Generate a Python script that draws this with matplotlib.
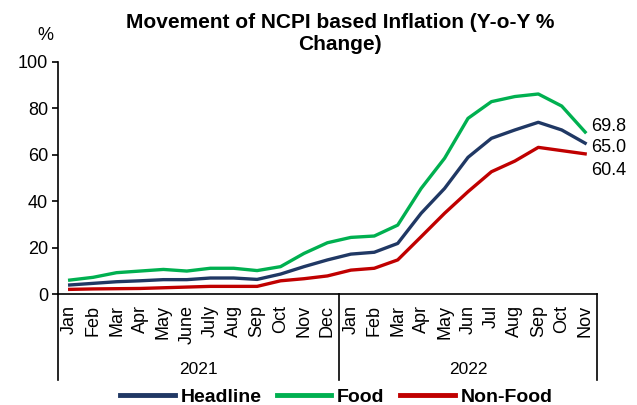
import numpy as np
import matplotlib.pyplot as plt
from matplotlib.lines import Line2D
import matplotlib.transforms as mtransforms

plt.rcParams['font.family'] = ['Liberation Sans', 'DejaVu Sans']

months = ["Jan", "Feb", "Mar", "Apr", "May", "June", "July", "Aug", "Sep", "Oct", "Nov", "Dec",
          "Jan", "Feb", "Mar", "Apr", "May", "Jun", "Jul", "Aug", "Sep", "Oct", "Nov"]
years = ["2021", "2022"]
year_len = [12, 11]

headline = [3.9, 4.6, 5.3, 5.7, 6.2, 6.2, 6.9, 6.9, 6.3, 8.6, 11.8, 14.7,
            17.2, 18.0, 21.8, 34.8, 45.5, 58.9, 67.1, 70.7, 74.0, 70.7, 65.0]
food = [6.0, 7.2, 9.2, 9.9, 10.6, 9.9, 11.1, 11.1, 10.1, 11.8, 17.5, 22.1,
        24.4, 25.0, 29.7, 45.5, 58.5, 75.7, 82.9, 85.1, 86.2, 81.0, 69.8]
nonfood = [2.0, 2.2, 2.3, 2.4, 2.7, 3.0, 3.3, 3.3, 3.3, 5.7, 6.6, 7.8,
           10.3, 11.1, 14.7, 24.7, 34.8, 44.1, 52.7, 57.3, 63.2, 61.8, 60.4]

c_head = "#203864"
c_food = "#00B050"
c_non = "#C00000"

fig = plt.figure(figsize=(6.37, 4.05), dpi=100)
ax = fig.add_axes([0.091, 0.274, 0.846, 0.573])

x = np.arange(len(months))
ax.plot(x, headline, color=c_head, lw=2.4, label="Headline")
ax.plot(x, food, color=c_food, lw=2.4, label="Food")
ax.plot(x, nonfood, color=c_non, lw=2.4, label="Non-Food")

ax.set_xlim(-0.5, len(months) - 0.5)
ax.set_ylim(0, 100)
ax.set_yticks(np.arange(0, 101, 20))
ax.tick_params(axis='y', length=4, width=1.2, direction="out", labelsize=13, pad=3)
ax.set_xticks(x)
ax.set_xticklabels(months, rotation=90, fontsize=13)
ax.tick_params(axis='x', length=0, pad=8)

for s in ["top", "right"]:
    ax.spines[s].set_visible(False)
ax.spines["left"].set_color("black")
ax.spines["left"].set_linewidth(1.2)
ax.spines["bottom"].set_color("black")
ax.spines["bottom"].set_linewidth(1.2)

# group separators and year labels below the axis
trans = mtransforms.blended_transform_factory(ax.transData, fig.transFigure)
y_bot = 1 - 380 / 405
bounds = [-0.5]
for n in year_len:
    bounds.append(bounds[-1] + n)
for b in bounds:
    fig.add_artist(Line2D([b, b], [0.274, y_bot], transform=trans, color="black", lw=1.2))
for i, yr in enumerate(years):
    mid = (bounds[i] + bounds[i + 1]) / 2
    fig.text(mid, 1 - 369 / 405, yr, transform=trans, ha="center", va="center", fontsize=12.5)

# end labels
xe = len(months) - 0.75
ax.text(xe, 72.4, "69.8", fontsize=13, va="center", clip_on=False)
ax.text(xe, 63.2, "65.0", fontsize=13, va="center", clip_on=False)
ax.text(xe, 53.1, "60.4", fontsize=13, va="center", clip_on=False)

fig.text(0.534, 1 - 23 / 405, "Movement of NCPI based Inflation (Y-o-Y %", ha="center",
         va="center", fontsize=15, fontweight="bold")
fig.text(0.534, 1 - 44 / 405, "Change)", ha="center", va="center", fontsize=15, fontweight="bold")
fig.text(45 / 637, 1 - 35 / 405, "%", ha="center", va="center", fontsize=13)

leg = fig.legend(loc="center", bbox_to_anchor=(0.528, 1 - 397 / 405), ncol=3, frameon=False,
                 handlelength=2.8, columnspacing=0.8, handletextpad=0.3,
                 prop={"weight": "bold", "size": 14})
for h in leg.get_lines():
    h.set_linewidth(3.5)

fig.savefig("out.png", dpi=100)
